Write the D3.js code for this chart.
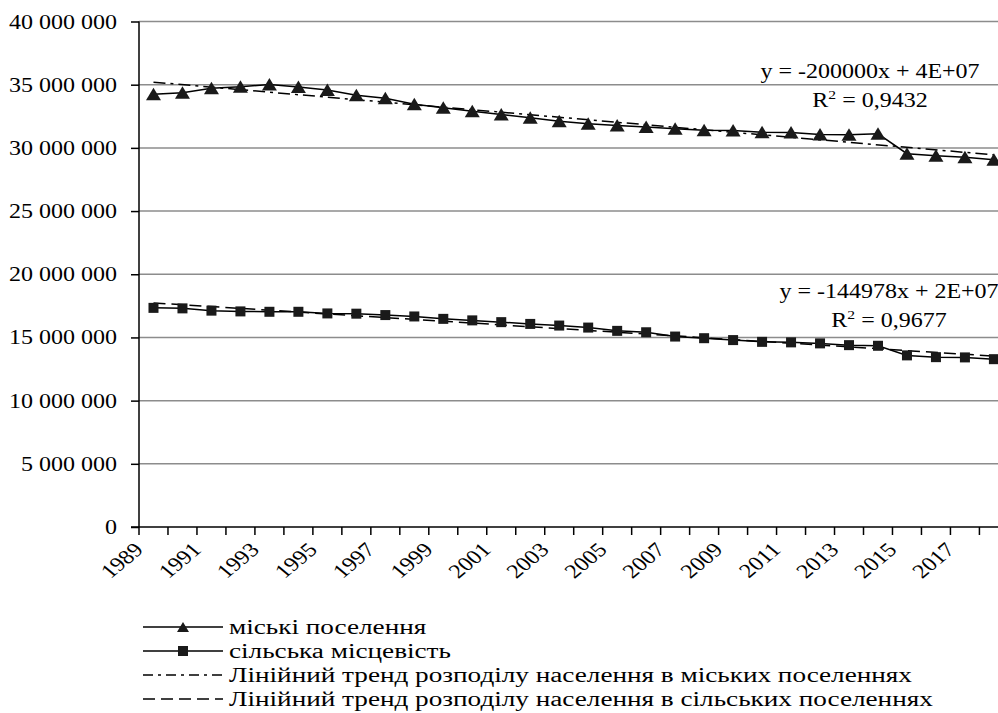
<!DOCTYPE html>
<html lang="uk">
<head>
    <meta charset="UTF-8">
    <title>Розподіл населення</title>
    <script src="https://d3js.org/d3.v7.min.js"></script>
    <style>
        body { margin: 0; background: #fff; }
        text { font-family: "Liberation Serif", "Times New Roman", serif; fill: #000; }
        .grid line { stroke: #8c8c8c; stroke-width: 1.5px; }
        .axis line, .axis path { stroke: #000; stroke-width: 1.5px; }
    </style>
</head>
<body>
<script>
    var width = 998, height = 713;
    var sx = 1.2; // text in the picture is stretched horizontally

    var years = [1989, 1990, 1991, 1992, 1993, 1994, 1995, 1996, 1997, 1998,
                 1999, 2000, 2001, 2002, 2003, 2004, 2005, 2006, 2007, 2008,
                 2009, 2010, 2011, 2012, 2013, 2014, 2015, 2016, 2017, 2018];

    var urban = [34250000, 34360000, 34710000, 34830000, 35010000, 34810000, 34580000, 34170000, 33920000, 33450000,
                 33170000, 32900000, 32640000, 32380000, 32100000, 31900000, 31770000, 31650000, 31510000, 31390000,
                 31370000, 31240000, 31220000, 31060000, 31030000, 31110000, 29540000, 29370000, 29250000, 29060000];

    var rural = [17340000, 17300000, 17120000, 17060000, 17030000, 17030000, 16900000, 16880000, 16770000, 16660000,
                 16470000, 16350000, 16210000, 16070000, 15940000, 15780000, 15520000, 15410000, 15070000, 14940000,
                 14790000, 14650000, 14610000, 14530000, 14390000, 14340000, 13580000, 13440000, 13420000, 13280000];

    var yTicks = [0, 5000000, 10000000, 15000000, 20000000, 25000000, 30000000, 35000000, 40000000];

    var trendLabels = [
        {eq: "y = -200000x + 4E+07", r2: "0,9432"},
        {eq: "y = -144978x + 2E+07", r2: "0,9677"}
    ];

    var legendLabels = [
        "міські поселення",
        "сільська місцевість",
        "Лінійний тренд розподілу населення в міських поселеннях",
        "Лінійний тренд розподілу населення в сільських поселеннях"
    ];

    var plotLeft = 139, plotTop = 21.5, plotBottom = 527, bandW = 28.98;

    var x = d3.scaleBand()
        .domain(years)
        .range([plotLeft, plotLeft + years.length * bandW])
        .paddingInner(0).paddingOuter(0);

    var y = d3.scaleLinear()
        .domain([0, 40000000])
        .range([plotBottom, plotTop]);

    var fmt = d3.formatLocale({decimal: ",", thousands: " ", grouping: [3], currency: ["", ""]}).format(",");

    function cx(d) { return x(d) + x.bandwidth() / 2; }

    // least squares trend, x = 1..n as in Excel
    function trend(vals) {
        var n = vals.length, s1 = 0, s2 = 0, sxy = 0, sxx = 0;
        vals.forEach(function(v, i) {
            var k = i + 1;
            s1 += k; s2 += v; sxy += k * v; sxx += k * k;
        });
        var b = (n * sxy - s1 * s2) / (n * sxx - s1 * s1);
        var a = (s2 - b * s1) / n;
        return [{i: 0, v: a + b}, {i: n - 1, v: a + b * n}];
    }

    var svg = d3.select("body").append("svg")
        .attr("width", width)
        .attr("height", height);

    // gridlines
    svg.append("g").attr("class", "grid")
        .selectAll("line")
        .data(yTicks.filter(function(d) { return d > 0; }))
        .enter().append("line")
        .attr("x1", plotLeft).attr("x2", width)
        .attr("y1", function(d) { return y(d); })
        .attr("y2", function(d) { return y(d); });

    // y axis
    var yAxis = svg.append("g").attr("class", "axis")
        .attr("transform", "translate(" + plotLeft + ",0)")
        .call(d3.axisLeft(y).tickValues(yTicks).tickSize(8).tickSizeOuter(0).tickFormat(""));
    yAxis.select(".domain").attr("d", "M0," + y(40000000) + "V" + plotBottom);

    svg.append("g").selectAll("text")
        .data(yTicks)
        .enter().append("text")
        .attr("transform", function(d) { return "translate(117," + y(d) + ") scale(" + sx + ",1)"; })
        .attr("text-anchor", "end")
        .attr("dy", "0.35em")
        .style("font-size", "20px")
        .text(function(d) { return fmt(d); });

    // x axis with ticks between categories
    var xAxis = svg.append("g").attr("class", "axis");
    xAxis.append("line")
        .attr("x1", plotLeft - 8).attr("x2", width)
        .attr("y1", plotBottom).attr("y2", plotBottom);
    xAxis.selectAll(".tick")
        .data(years)
        .enter().append("line")
        .attr("class", "tick")
        .attr("x1", function(d) { return x(d); })
        .attr("x2", function(d) { return x(d); })
        .attr("y1", plotBottom).attr("y2", plotBottom + 8);

    svg.append("g").selectAll("text")
        .data(years.filter(function(d, i) { return i % 2 === 0; }))
        .enter().append("text")
        .attr("transform", function(d) {
            return "translate(" + (cx(d) - 9) + "," + (plotBottom + 24) + ") scale(" + sx + ",1) rotate(-45)";
        })
        .attr("text-anchor", "end")
        .style("font-size", "20px")
        .text(function(d) { return d; });

    // series
    var line = d3.line()
        .x(function(d, i) { return cx(years[i]); })
        .y(function(d) { return y(d); });

    var trendLine = d3.line()
        .x(function(d) { return cx(years[d.i]); })
        .y(function(d) { return y(d.v); });

    svg.append("path").datum(trend(urban))
        .attr("d", trendLine)
        .attr("fill", "none").attr("stroke", "#000").attr("stroke-width", 1.5)
        .attr("stroke-dasharray", "12,5,3,5");

    svg.append("path").datum(trend(rural))
        .attr("d", trendLine)
        .attr("fill", "none").attr("stroke", "#000").attr("stroke-width", 1.5)
        .attr("stroke-dasharray", "12,6");

    svg.append("path").datum(urban)
        .attr("d", line)
        .attr("fill", "none").attr("stroke", "#000").attr("stroke-width", 1.5);

    svg.append("path").datum(rural)
        .attr("d", line)
        .attr("fill", "none").attr("stroke", "#000").attr("stroke-width", 1.5);

    var tri = "M0,-6.5L7.5,6L-7.5,6Z";

    svg.append("g").selectAll("path")
        .data(urban)
        .enter().append("path")
        .attr("d", tri)
        .attr("fill", "#1a1a1a")
        .attr("transform", function(d, i) { return "translate(" + cx(years[i]) + "," + y(d) + ")"; });

    svg.append("g").selectAll("rect")
        .data(rural)
        .enter().append("rect")
        .attr("x", function(d, i) { return cx(years[i]) - 5; })
        .attr("y", function(d) { return y(d) - 5; })
        .attr("width", 10).attr("height", 10)
        .attr("fill", "#1a1a1a");

    // trend equations
    var eqPos = [{x: 870, y: 78}, {x: 889, y: 298}];
    trendLabels.forEach(function(t, k) {
        var p = eqPos[k];
        svg.append("text")
            .attr("transform", "translate(" + p.x + "," + p.y + ") scale(" + sx + ",1)")
            .attr("text-anchor", "middle")
            .style("font-size", "20px")
            .text(t.eq);
        var r = svg.append("text")
            .attr("transform", "translate(" + p.x + "," + (p.y + 29) + ") scale(" + sx + ",1)")
            .attr("text-anchor", "middle")
            .style("font-size", "20px");
        r.append("tspan").text("R");
        r.append("tspan").attr("dy", -8).style("font-size", "13px").text("2");
        r.append("tspan").attr("dy", 8).text(" = " + t.r2);
    });

    // legend
    var lg = svg.append("g");
    var rowY = function(i) { return 627 + i * 24; };
    var dashes = [null, null, "10,5,3,5", "12,6"];

    legendLabels.forEach(function(lbl, i) {
        lg.append("line")
            .attr("x1", 143).attr("x2", 223)
            .attr("y1", rowY(i)).attr("y2", rowY(i))
            .attr("stroke", "#000").attr("stroke-width", 1.5)
            .attr("stroke-dasharray", dashes[i]);
        lg.append("text")
            .attr("transform", "translate(229," + rowY(i) + ") scale(1.36,1)")
            .attr("dy", "0.33em")
            .style("font-size", "20px")
            .text(lbl);
    });
    lg.append("path")
        .attr("d", "M0,-5L6,5L-6,5Z")
        .attr("fill", "#1a1a1a")
        .attr("transform", "translate(183," + rowY(0) + ")");
    lg.append("rect")
        .attr("x", 178).attr("y", rowY(1) - 5)
        .attr("width", 10).attr("height", 10)
        .attr("fill", "#1a1a1a");
</script>
</body>
</html>
